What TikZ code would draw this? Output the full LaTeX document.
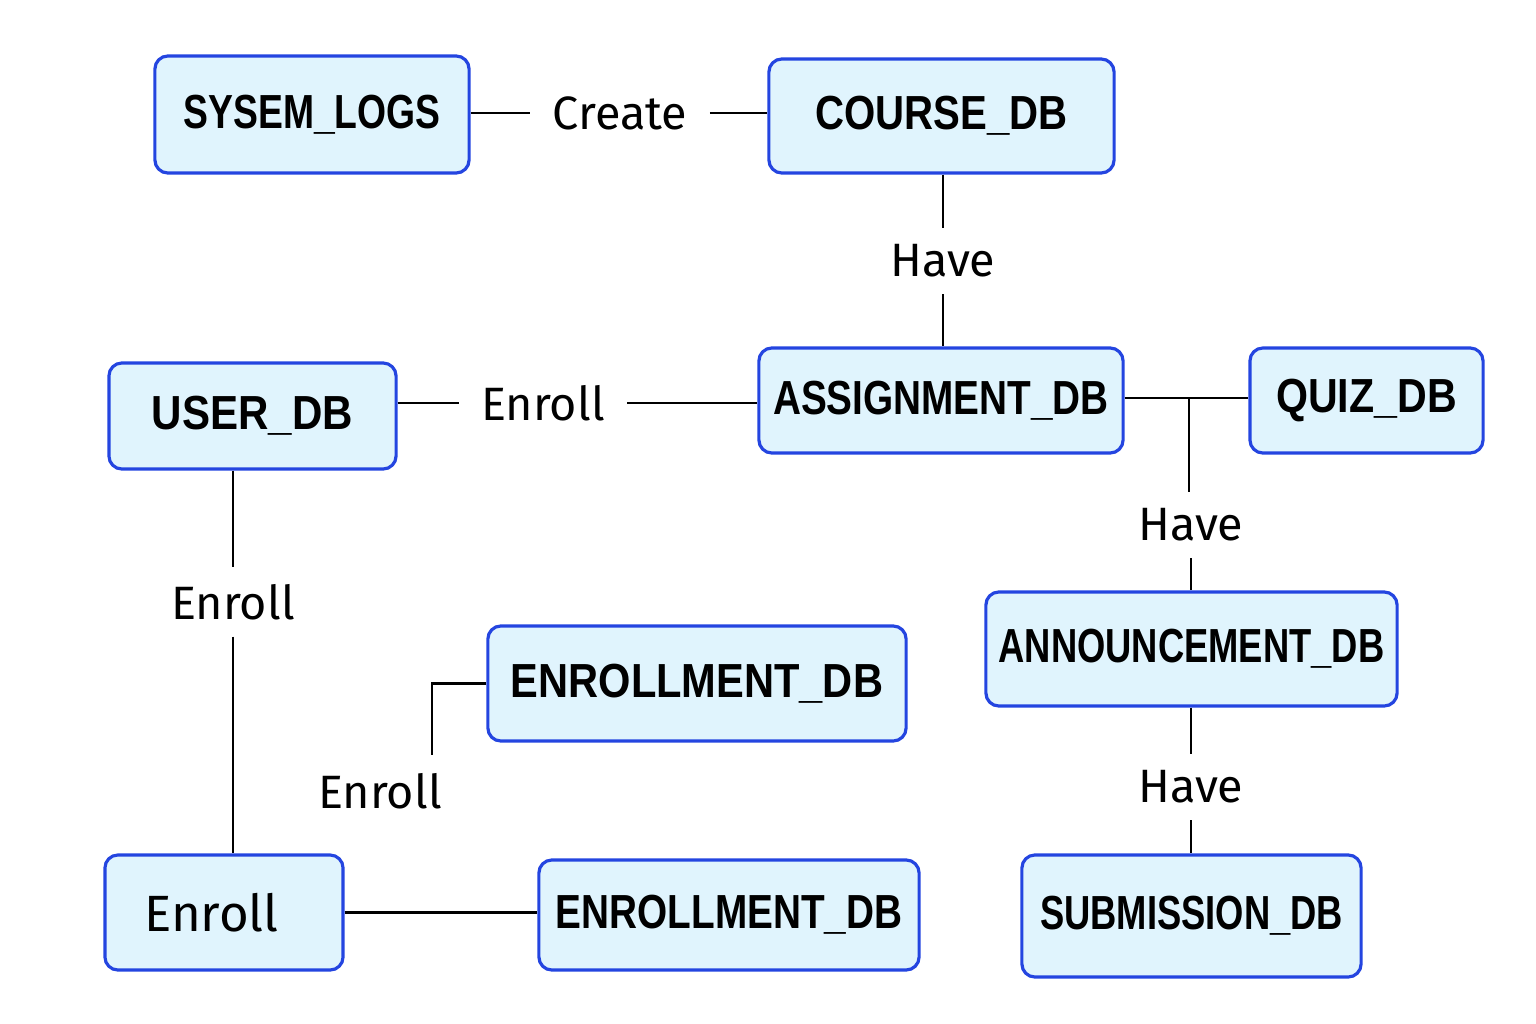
\documentclass[tikz,border=0pt]{standalone}
\usepackage{fontspec}
\usepackage{graphicx}
\setmainfont{Fira Sans}
\newfontfamily\boxfont{Liberation Sans}
\usetikzlibrary{calc}
\definecolor{boxfill}{HTML}{E0F4FD}
\definecolor{boxline}{HTML}{2445E0}
\tikzset{
  entity/.style={draw=boxline, fill=boxfill, line width=0.9pt, rounded corners=0.13cm,
    inner sep=0pt, font=\boxfont\bfseries\fontsize{13.6}{16}\selectfont},
  rel/.style={inner xsep=0.22cm, inner ysep=0.16cm, font=\fontsize{13.3}{16}\selectfont},
  conn/.style={line width=0.65pt, black}
}
\newcommand{\bx}[2][0.8]{\raisebox{-1.5pt}{\scalebox{#1}[1]{#2}}}
\begin{document}
\begin{tikzpicture}[x=0.01cm,y=-0.01cm]
\useasboundingbox (0,0) rectangle (1536,1024);
% entities
\node[entity, minimum width=3.14cm, minimum height=1.17cm] (sys) at (312,114.5) {\bx[0.78]{SYSEM\_LOGS}};
\node[entity, minimum width=3.45cm, minimum height=1.14cm] (course) at (941.5,116) {\bx[0.84]{COURSE\_DB}};
\node[entity, minimum width=2.87cm, minimum height=1.06cm] (user) at (252.5,416) {\bx[0.88]{USER\_DB}};
\node[entity, minimum width=3.64cm, minimum height=1.05cm] (assign) at (941,400.5) {\bx[0.81]{ASSIGNMENT\_DB}};
\node[entity, minimum width=2.33cm, minimum height=1.05cm] (quiz) at (1366.5,400.5) {\bx[0.86]{QUIZ\_DB}};
\node[entity, minimum width=4.11cm, minimum height=1.14cm] (ann) at (1191.5,649) {\bx[0.76]{ANNOUNCEMENT\_DB}};
\node[entity, minimum width=4.18cm, minimum height=1.15cm] (enr1) at (697,683.5) {\bx[0.87]{ENROLLMENT\_DB}};
\node[entity, minimum width=2.38cm, minimum height=1.15cm, font=\fontsize{14.5}{17}\selectfont] (enrbox) at (224,912.5) {\hspace*{-0.25cm}Enroll};
\node[entity, minimum width=3.80cm, minimum height=1.10cm] (enr2) at (729,915) {\bx[0.81]{ENROLLMENT\_DB}};
\node[entity, minimum width=3.39cm, minimum height=1.22cm] (sub) at (1191.5,916) {\bx[0.76]{SUBMISSION\_DB}};
% relationship labels
\node[rel] (create) at (620,113) {Create};
\node[rel] (have1) at (943,261) {Have};
\node[rel] (enroll1) at (543,403) {Enroll};
\node[rel] (have2) at (1191,525) {Have};
\node[rel] (enroll2) at (233,602) {Enroll};
\node[rel] (enroll3) at (380,791) {Enroll};
\node[rel] (have3) at (1191,787) {Have};
\coordinate (j) at (1189,398);
\coordinate (e3) at (432,755);
% connectors
\draw[conn] (sys.east |- create.west) -- (create.west);
\draw[conn] (create.east) -- (course.west |- create.east);
\draw[conn] (course.south -| have1.north) -- (have1.north);
\draw[conn] (have1.south) -- (assign.north -| have1.south);
\draw[conn] (user.east |- enroll1.west) -- (enroll1.west);
\draw[conn] (enroll1.east) -- (assign.west |- enroll1.east);
\draw[conn] (assign.east |- j) -- (quiz.west |- j);
\draw[conn] (j) -- (j |- have2.north);
\draw[conn] (have2.south) -- (ann.north -| have2.south);
\draw[conn] (enroll2.north |- user.south) -- (enroll2.north);
\draw[conn] (enroll2.south) -- (enrbox.north -| enroll2.south);
\draw[conn] (enr1.west) -| (e3);
\draw[conn] (enrbox.east) -- (enrbox.east -| enr2.west);
\draw[conn] (ann.south -| have3.north) -- (have3.north);
\draw[conn] (have3.south) -- (sub.north -| have3.south);
\end{tikzpicture}
\end{document}
